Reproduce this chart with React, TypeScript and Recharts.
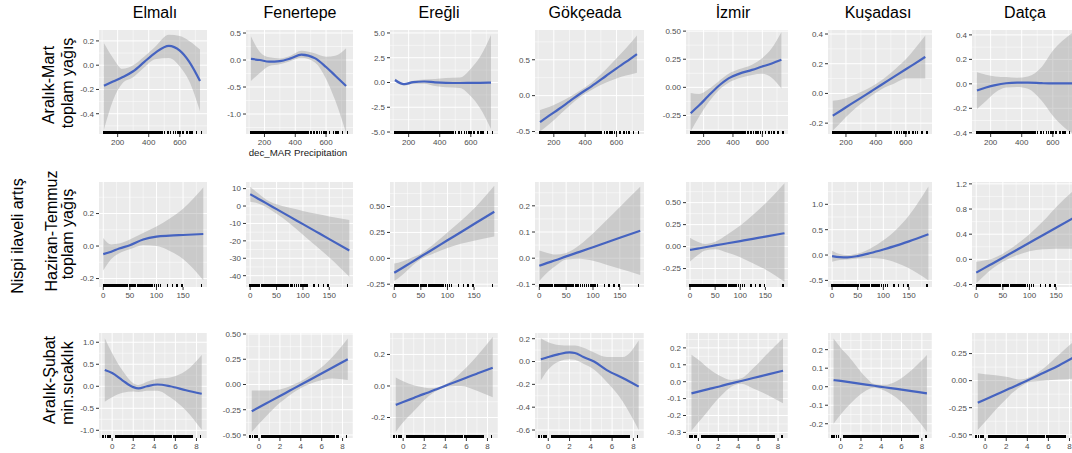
import { ComposedChart, Area, Line, Scatter, XAxis, YAxis, CartesianGrid } from "recharts"

const sites = ["Elmalı", "Fenertepe", "Ereğli", "Gökçeada", "İzmir", "Kuşadası", "Datça"]

// Row 1: Aralık-Mart toplam yağış (dec_MAR Precipitation)
const marX = [112, 170, 230, 300, 370, 440, 530, 600, 660, 730]
const marFit = [
  [-0.17, -0.135, -0.1, -0.05, 0.025, 0.1, 0.16, 0.12, 0.03, -0.13],
  [0.02, 0.0, -0.03, -0.02, 0.03, 0.1, 0.03, -0.13, -0.29, -0.48],
  [0.25, -0.17, 0.03, 0.1, 0.02, -0.03, -0.05, -0.04, -0.03, -0.02],
  [-0.37, -0.28, -0.19, -0.08, 0.03, 0.13, 0.27, 0.38, 0.47, 0.58],
  [-0.23, -0.16, -0.08, 0.01, 0.08, 0.12, 0.155, 0.185, 0.21, 0.245],
  [-0.15, -0.113, -0.074, -0.03, 0.015, 0.06, 0.118, 0.163, 0.201, 0.246],
  [-0.055, -0.03, -0.01, 0.005, 0.01, 0.01, 0.005, 0.003, 0.003, 0.003],
]
const marLo = [
  [-0.53, -0.29, -0.15, -0.1, -0.02, 0.05, 0.06, -0.01, -0.13, -0.38],
  [-0.39, -0.24, -0.11, -0.08, -0.02, 0.04, -0.05, -0.35, -0.75, -1.35],
  [0.1, -0.3, -0.12, -0.12, -0.35, -0.48, -0.55, -1.4, -2.6, -4.7],
  [-0.5, -0.4, -0.28, -0.14, -0.015, 0.08, 0.18, 0.24, 0.28, 0.32],
  [-0.39, -0.26, -0.14, -0.03, 0.04, 0.08, 0.11, 0.12, 0.09, -0.01],
  [-0.25, -0.19, -0.13, -0.07, -0.015, 0.03, 0.07, 0.1, 0.1, 0.1],
  [-0.205, -0.14, -0.07, -0.03, -0.025, -0.04, -0.14, -0.26, -0.34, -0.41],
]
const marHi = [
  [0.18, 0.06, -0.03, 0.0, 0.07, 0.15, 0.25, 0.24, 0.2, 0.13],
  [0.44, 0.15, 0.05, 0.03, 0.08, 0.17, 0.12, 0.06, 0.08, 0.22],
  [0.4, -0.04, 0.18, 0.3, 0.35, 0.45, 0.5, 1.4, 2.6, 4.8],
  [-0.2, -0.16, -0.1, -0.02, 0.075, 0.18, 0.36, 0.52, 0.66, 0.84],
  [-0.05, -0.06, -0.02, 0.05, 0.12, 0.16, 0.2, 0.26, 0.34, 0.49],
  [-0.05, -0.04, -0.02, 0.01, 0.045, 0.09, 0.165, 0.23, 0.3, 0.39],
  [0.095, 0.075, 0.06, 0.055, 0.05, 0.06, 0.14, 0.27, 0.35, 0.42],
]
const marRug = [
  112, 118, 124, 131, 137, 142, 149, 155, 160, 166, 172, 178, 185, 190, 197, 203, 209, 214, 221, 227,
  233, 240, 246, 252, 258, 263, 270, 277, 284, 290, 296, 303, 309, 316, 322, 329, 335, 342, 348, 355,
  362, 368, 375, 383, 390, 398, 405, 412, 420, 428, 436, 445, 452, 460, 468, 476, 487, 502, 523, 540,
  558, 572, 587, 600, 622, 647, 664, 679, 707, 740,
]
const marXTicks = [200, 400, 600]
const marYTicks = [
  [-0.4, -0.2, 0, 0.2],
  [-1, -0.5, 0, 0.5],
  [-5, -2.5, 0, 2.5, 5],
  [-0.5, 0, 0.5],
  [-0.25, 0, 0.25, 0.5],
  [-0.2, 0, 0.2, 0.4],
  [-0.4, -0.2, 0, 0.2, 0.4],
]
const marYDomain = [
  [-0.567, 0.29], [-1.37, 0.556], [-5.2, 5.3], [-0.535, 0.915], [-0.415, 0.51], [-0.273, 0.427], [-0.41, 0.44],
]
const marDigits = [1, 1, 1, 1, 2, 1, 1]

// Row 2: Haziran-Temmuz toplam yağış
const junX = [0, 15, 30, 50, 75, 100, 125, 150, 188]
const junFit = [
  [-0.05, -0.035, -0.015, 0.005, 0.04, 0.058, 0.064, 0.068, 0.074],
  [6.8, 4.2, 1.65, -1.8, -6.1, -10.4, -14.7, -19.0, -25.5],
  [-0.14, -0.093, -0.046, 0.017, 0.095, 0.174, 0.252, 0.331, 0.45],
  [-0.029, -0.018, -0.008, 0.007, 0.024, 0.042, 0.06, 0.078, 0.105],
  [-0.038, -0.023, -0.008, 0.013, 0.038, 0.063, 0.088, 0.114, 0.152],
  [-0.02, -0.04, -0.045, -0.02, 0.04, 0.11, 0.185, 0.27, 0.41],
  [-0.212, -0.14, -0.069, 0.026, 0.145, 0.264, 0.383, 0.502, 0.683],
]
const junLo = [
  [-0.15, -0.08, -0.045, -0.02, 0.005, 0.0, -0.03, -0.08, -0.21],
  [2.5, 1.5, -0.5, -4.5, -10, -16.5, -23, -29.5, -40.6],
  [-0.22, -0.16, -0.09, -0.01, 0.05, 0.1, 0.14, 0.17, 0.21],
  [-0.087, -0.055, -0.03, -0.005, -0.002, -0.01, -0.025, -0.04, -0.064],
  [-0.17, -0.1, -0.045, -0.03, -0.07, -0.12, -0.19, -0.26, -0.4],
  [-0.13, -0.1, -0.09, -0.07, -0.06, -0.08, -0.15, -0.26, -0.5],
  [-0.38, -0.26, -0.15, -0.04, 0.06, 0.13, 0.16, 0.17, 0.17],
]
const junHi = [
  [0.05, 0.01, 0.015, 0.04, 0.08, 0.12, 0.17, 0.23, 0.36],
  [11.1, 7.3, 3.8, 1.0, -1.0, -2.8, -4.5, -6.0, -8.0],
  [-0.05, -0.03, 0.0, 0.045, 0.14, 0.25, 0.36, 0.48, 0.7],
  [0.029, 0.02, 0.014, 0.02, 0.05, 0.094, 0.145, 0.196, 0.273],
  [0.1, 0.055, 0.03, 0.055, 0.14, 0.24, 0.36, 0.49, 0.72],
  [0.085, 0.02, 0.0, 0.03, 0.13, 0.29, 0.5, 0.78, 1.35],
  [-0.04, -0.02, 0.01, 0.09, 0.23, 0.4, 0.6, 0.83, 1.13],
]
const junRug = [
  0, 2, 4, 6, 8, 10, 12, 14, 16, 18, 21, 23, 25, 28, 30, 33, 35, 38, 40, 43, 46, 49, 52, 55, 58, 61,
  64, 67, 70, 73, 77, 80, 84, 88, 92, 96, 100, 104, 108, 121, 130, 139, 148, 185,
]
const junXTicks = [0, 50, 100, 150]
const junYTicks = [
  [-0.2, 0, 0.2],
  [-40, -30, -20, -10, 0, 10],
  [-0.25, 0, 0.25, 0.5],
  [-0.1, 0, 0.1, 0.2],
  [-0.25, 0, 0.25, 0.5],
  [-0.5, 0, 0.5, 1],
  [-0.4, 0, 0.4, 0.8, 1.2],
]
const junYDomain = [
  [-0.252, 0.394], [-46.5, 13.8], [-0.277, 0.737], [-0.11, 0.291], [-0.46, 0.735], [-0.63, 1.44], [-0.44, 1.23],
]
const junDigits = [1, 0, 2, 1, 2, 1, 1]

// Row 3: Aralık-Şubat min. sıcaklık
const decX = [-0.7, 0, 1, 2, 2.5, 3.3, 4.3, 5.5, 7, 8.5]
const decFit = [
  [0.37, 0.3, 0.13, -0.02, -0.05, 0.0, 0.04, 0.0, -0.09, -0.17],
  [-0.265, -0.226, -0.17, -0.114, -0.086, -0.041, 0.015, 0.082, 0.166, 0.25],
  [-0.12, -0.102, -0.076, -0.05, -0.038, -0.017, 0.009, 0.04, 0.078, 0.116],
  [0.02, 0.04, 0.065, 0.08, 0.075, 0.04, 0.0, -0.075, -0.145, -0.22],
  [-0.069, -0.059, -0.044, -0.03, -0.022, -0.01, 0.004, 0.022, 0.043, 0.065],
  [0.036, 0.031, 0.023, 0.015, 0.011, 0.005, -0.003, -0.012, -0.024, -0.036],
  [-0.204, -0.174, -0.13, -0.087, -0.065, -0.03, 0.014, 0.07, 0.14, 0.22],
]
const decLo = [
  [-0.35, -0.25, -0.15, -0.12, -0.13, -0.1, -0.1, -0.25, -0.55, -0.99],
  [-0.47, -0.39, -0.28, -0.18, -0.14, -0.08, -0.02, 0.03, 0.06, 0.045],
  [-0.29, -0.23, -0.16, -0.09, -0.06, -0.025, -0.003, 0.0, -0.03, -0.072],
  [-0.165, -0.07, 0.0, 0.02, 0.015, -0.02, -0.07, -0.18, -0.35, -0.6],
  [-0.29, -0.24, -0.17, -0.1, -0.07, -0.03, -0.012, -0.04, -0.08, -0.128],
  [-0.2, -0.15, -0.09, -0.04, -0.02, -0.005, -0.02, -0.06, -0.14, -0.243],
  [-0.456, -0.38, -0.27, -0.17, -0.12, -0.06, -0.01, 0.0, 0.01, 0.02],
]
const decHi = [
  [1.09, 0.75, 0.35, 0.07, 0.03, 0.1, 0.17, 0.2, 0.35, 0.71],
  [-0.06, -0.06, -0.06, -0.05, -0.035, 0.0, 0.05, 0.13, 0.27, 0.455],
  [0.053, 0.03, 0.005, -0.01, -0.015, -0.008, 0.02, 0.085, 0.19, 0.31],
  [0.205, 0.17, 0.145, 0.14, 0.14, 0.12, 0.08, 0.04, 0.04, 0.185],
  [0.16, 0.13, 0.08, 0.04, 0.025, 0.01, 0.02, 0.08, 0.17, 0.257],
  [0.26, 0.21, 0.15, 0.08, 0.05, 0.015, 0.01, 0.03, 0.09, 0.171],
  [0.068, 0.06, 0.05, 0.035, 0.025, 0.01, 0.035, 0.11, 0.24, 0.37],
]
const decRug = [
  -0.86, -0.64, -0.41, -0.22, 0.3, 0.42, 0.55, 0.7, 0.82, 0.95, 1.1, 1.22, 1.35, 1.5, 1.62, 1.78, 1.9,
  2.05, 2.18, 2.3, 2.45, 2.58, 2.7, 2.85, 3.0, 3.12, 3.25, 3.4, 3.52, 3.65, 3.8, 3.92, 4.05, 4.2, 4.33,
  4.45, 4.6, 4.72, 4.85, 5.0, 5.12, 5.25, 5.4, 5.52, 5.65, 5.8, 5.92, 6.05, 6.2, 6.32, 6.45, 6.6, 6.72,
  6.85, 7.0, 7.12, 7.25, 7.4, 7.52, 7.6, 8.4,
]
const decXTicks = [0, 2, 4, 6, 8]
const decYTicks = [
  [-1, -0.5, 0, 0.5, 1],
  [-0.5, -0.25, 0, 0.25, 0.5],
  [-0.2, 0, 0.2],
  [-0.6, -0.4, -0.2, 0, 0.2],
  [-0.3, -0.2, -0.1, 0, 0.1, 0.2],
  [-0.2, -0.1, 0, 0.1, 0.2],
  [-0.5, -0.25, 0, 0.25],
]
const decYDomain = [
  [-1.175, 1.21], [-0.53, 0.51], [-0.33, 0.336], [-0.67, 0.25], [-0.333, 0.288], [-0.277, 0.29], [-0.53, 0.44],
]
const decDigits = [1, 2, 1, 1, 1, 1, 2]

const rows = [
  { xs: marX, fit: marFit, lo: marLo, hi: marHi, rug: marRug, xTicks: marXTicks, xDomain: [80, 775], yTicks: marYTicks, yDomain: marYDomain, digits: marDigits },
  { xs: junX, fit: junFit, lo: junLo, hi: junHi, rug: junRug, xTicks: junXTicks, xDomain: [-8, 195], yTicks: junYTicks, yDomain: junYDomain, digits: junDigits },
  { xs: decX, fit: decFit, lo: decLo, hi: decHi, rug: decRug, xTicks: decXTicks, xDomain: [-1.25, 9.0], yTicks: decYTicks, yDomain: decYDomain, digits: decDigits },
]

// panel geometry (plot area)
const colLeft = [99, 246, 390, 535, 686, 828, 972]
const colWidth = [108, 107, 108, 109, 102, 104, 108]
const rowTop = [30, 182, 333]
const rowHeight = [104, 105, 105]
const AXIS_W = 42
const AXIS_H = 22
const PAD = 7 // room above the panel so the top tick label is not cut

const BLUE = "#4563c0"
const TICK = { fontSize: 8, fill: "#4d4d4d" }

// ggplot style minor grid: halfway between the major breaks
function minorLines(ticks: number[], domain: number[]) {
  const step = ticks[1] - ticks[0]
  const out: number[] = []
  for (let v = ticks[0] - step / 2; v <= domain[1]; v += step) {
    if (v >= domain[0]) out.push(v)
  }
  return out
}

const RugTick = (p: any) => (
  <line
    x1={p.cx}
    x2={p.cx}
    y1={p.cy}
    y2={p.cy - 3.5}
    stroke="#000"
    strokeWidth={1.5}
    shapeRendering="crispEdges"
  />
)

function Panel({ row, col }: { row: number; col: number }) {
  const r = rows[row]
  const data = r.xs.map((x, i) => ({ x, fit: r.fit[col][i], band: [r.lo[col][i], r.hi[col][i]] }))
  const yDomain = r.yDomain[col]
  const yTicks = r.yTicks[col]
  const rug = r.rug.map((x) => ({ x, ry: yDomain[0] }))
  const digits = r.digits[col]

  return (
    <div style={{ position: "absolute", left: colLeft[col] - AXIS_W, top: rowTop[row] - PAD }}>
      <ComposedChart
        width={AXIS_W + colWidth[col]}
        height={rowHeight[row] + AXIS_H + PAD}
        data={data}
        margin={{ top: PAD, right: 0, bottom: 0, left: 0 }}
      >
        <CartesianGrid
          fill="#EBEBEB"
          fillOpacity={1}
          stroke="#ffffff"
          strokeWidth={0.5}
          horizontalValues={minorLines(yTicks, yDomain)}
          verticalValues={minorLines(r.xTicks, r.xDomain)}
        />
        <CartesianGrid stroke="#ffffff" strokeWidth={1} horizontalValues={yTicks} verticalValues={r.xTicks} />
        <XAxis
          type="number"
          dataKey="x"
          domain={r.xDomain}
          ticks={r.xTicks}
          interval={0}
          allowDataOverflow
          height={AXIS_H}
          axisLine={false}
          tickLine={{ stroke: "#333333" }}
          tickSize={3}
          tickMargin={2}
          tick={TICK}
        />
        <YAxis
          type="number"
          domain={yDomain}
          ticks={yTicks}
          interval={0}
          allowDataOverflow
          width={AXIS_W}
          axisLine={false}
          tickLine={{ stroke: "#333333" }}
          tickSize={3}
          tickMargin={2}
          tick={TICK}
          tickFormatter={(v: number) => v.toFixed(digits)}
        />
        <Area dataKey="band" type="monotone" stroke="none" fill="#999999" fillOpacity={0.4} isAnimationActive={false} />
        <Line dataKey="fit" type="monotone" stroke={BLUE} strokeWidth={2.2} dot={false} isAnimationActive={false} />
        <Scatter data={rug} dataKey="ry" shape={RugTick} isAnimationActive={false} />
      </ComposedChart>
    </div>
  )
}

const titleX = [155, 300, 439, 585, 733, 878, 1025]

export default function App() {
  return (
    <div
      style={{
        position: "absolute",
        left: 0,
        top: 0,
        width: 1072,
        height: 453,
        overflow: "hidden",
        background: "#fff",
        fontFamily: '"Liberation Sans", Arial, sans-serif',
      }}
    >
      {rows.map((_, ri) => sites.map((_, ci) => <Panel key={ri + "-" + ci} row={ri} col={ci} />))}
      <svg width={1072} height={453} style={{ position: "absolute", left: 0, top: 0, pointerEvents: "none" }}>
        {sites.map((s, i) => (
          <text key={s} x={titleX[i]} y={18} textAnchor="middle" fontSize={16} fill="#000">
            {s}
          </text>
        ))}
        <text x={298} y={155.5} textAnchor="middle" fontSize={9.7} fill="#1a1a1a">
          dec_MAR Precipitation
        </text>
        <g fontSize={16} fill="#000" textAnchor="middle">
          <text transform="translate(23,236) rotate(-90)">Nispi ilaveli artış</text>
          <text transform="translate(54,85) rotate(-90)">Aralık-Mart</text>
          <text transform="translate(72.5,83) rotate(-90)">toplam yağış</text>
          <text transform="translate(57,231) rotate(-90)">Haziran-Temmuz</text>
          <text transform="translate(72.5,234) rotate(-90)">toplam yağış</text>
          <text transform="translate(54.5,380) rotate(-90)">Aralık-Şubat</text>
          <text transform="translate(73,383) rotate(-90)">min.sıcaklık</text>
        </g>
      </svg>
    </div>
  )
}
